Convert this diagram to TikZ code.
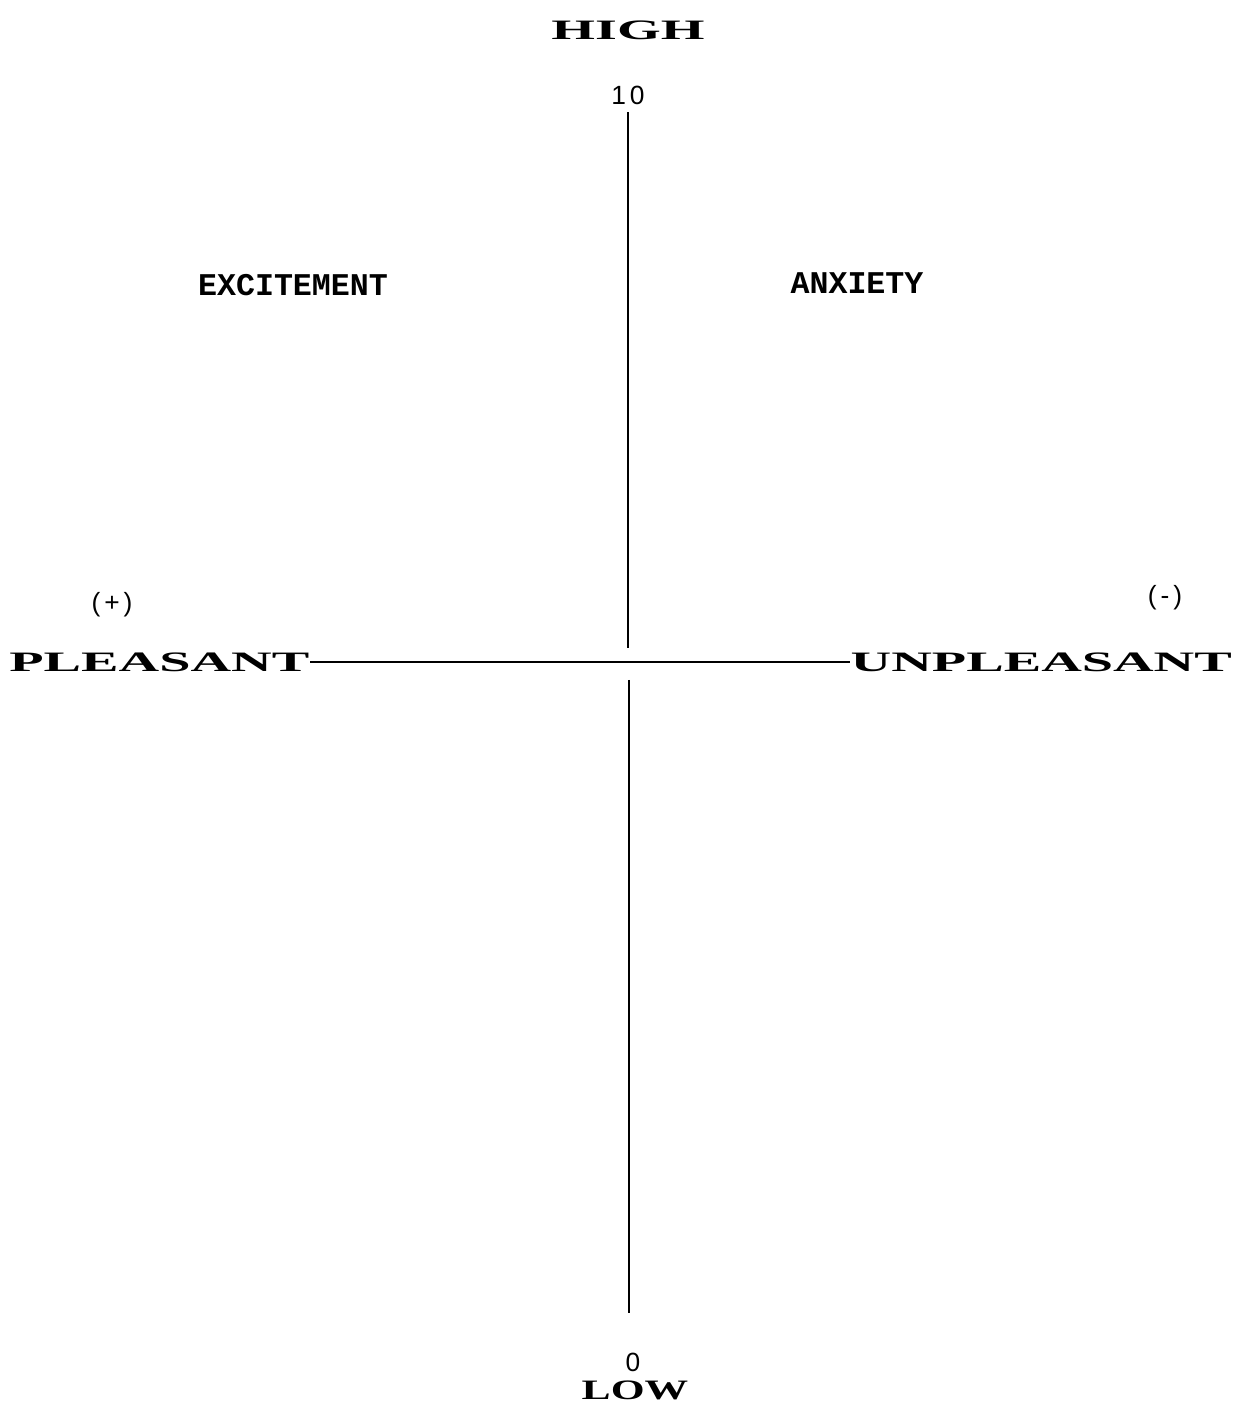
\documentclass[tikz,border=0pt]{standalone}
\usepackage{fontspec}
\usepackage{tikz}
\usetikzlibrary{positioning}
\newfontfamily\widefont[FakeStretch=2.0]{Liberation Serif}
\newfontfamily\lowfont[FakeStretch=1.55]{Liberation Serif}
\newfontfamily\typefont{Liberation Mono}
\newfontfamily\labelfont[LetterSpace=15]{Liberation Sans}
\begin{document}
\begin{tikzpicture}[big/.style={inner sep=0pt, font=\widefont\bfseries\fontsize{8}{9}\selectfont},
                        quad/.style={inner sep=0pt, font=\typefont\bfseries\fontsize{9}{10}\selectfont},
                        small/.style={inner sep=2pt, font=\labelfont\fontsize{7.5}{9}\selectfont},
                        axis/.style={line width=0.8pt}]
        \useasboundingbox (0,0) rectangle (12.46,14.19);
        % arousal axis
        \node[big] (high) at (6.28,13.89) {HIGH};
        \node[small] (ten) at (6.28,13.24) {10};
        \node[small] (zero) at (6.33,0.57) {0};
        \node[big, font=\lowfont\bfseries\fontsize{8}{9}\selectfont] (low) at (6.35,0.29) {LOW};
        \coordinate (gaptop) at (6.29,7.71);
        \coordinate (gapbot) at (6.29,7.39);
        % valence axis
        \node[big, anchor=east] (pleasant) at (3.10,7.57) {PLEASANT};
        \node[big, anchor=west] (unpleasant) at (8.50,7.57) {UNPLEASANT};
        \node[small] (plus) at (1.12,8.14) {(+)};
        \node[small] (minus) at (11.65,8.21) {(-)};
        % quadrants
        \node[quad] (excitement) at (2.93,11.34) {EXCITEMENT};
        \node[quad] (anxiety) at (8.57,11.36) {ANXIETY};
        \draw[axis] (pleasant) -- (unpleasant);
        \draw[axis] (ten) -- (ten |- gaptop);
        \draw[axis, shorten >=0.32cm] (gapbot) -- (gapbot |- zero.north);
    \end{tikzpicture}
\end{document}
